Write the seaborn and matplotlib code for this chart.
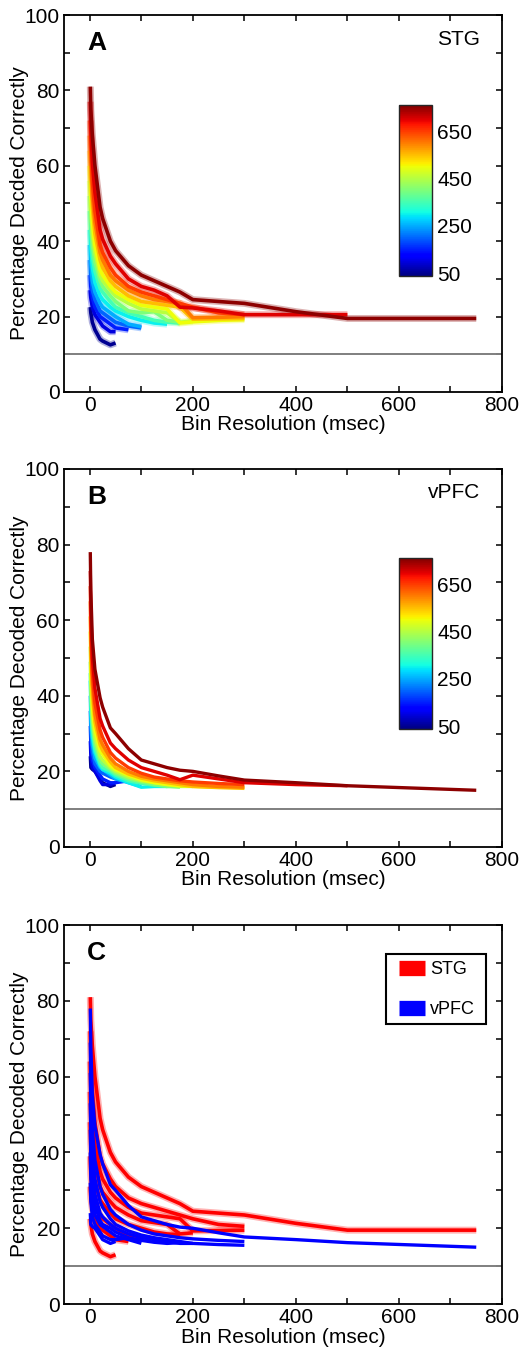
import numpy as np
import pandas as pd
import seaborn as sns
import matplotlib
matplotlib.use("Agg")
from matplotlib import pyplot as plt
from matplotlib.colors import Normalize
from matplotlib.lines import Line2D
from matplotlib.patches import Rectangle
from matplotlib.ticker import MultipleLocator, FixedLocator

# bin resolutions (msec) shared by all curves; each curve uses the first len(y) of them
BINS = [1, 2, 5, 10, 20, 25, 40, 50, 75, 100, 125, 150, 175, 200, 250, 300, 400, 500, 750]
WINDOWS = [50, 100, 150, 200, 250, 300, 350, 400, 450, 500, 550, 600, 650, 700, 750]

STG = [
    [22.5, 21, 18.5, 16.5, 14, 13.5, 12.5, 13],
    [27, 25, 22.5, 20.5, 18.5, 17.5, 16, 16],
    [31, 28, 25, 22.5, 20, 19.5, 18, 17, 16.5],
    [35, 31, 27, 24.5, 21.5, 21, 19.5, 18.5, 17.5, 17],
    [39, 34, 29.5, 26.5, 23.5, 22.5, 21, 20, 18, 17.3],
    [43, 38, 33, 29, 25.5, 24.5, 22.5, 21.5, 20, 19, 18.3, 18],
    [48, 42, 36, 32, 27.5, 26.5, 24, 22.5, 21, 20, 19, 18.5, 18.3],
    [52, 46, 39, 34.5, 29.5, 28, 25.5, 24, 21.5, 21, 21.3, 19, 18.5],
    [56, 49, 42, 37, 31, 29.5, 27, 25.5, 23.5, 22, 21.5, 21, 18.5, 18.8],
    [60, 53, 45, 39, 32.5, 31, 28, 26.5, 24.5, 23, 22.5, 22, 18.3, 18.6, 19, 19.2],
    [64, 57, 49, 42, 35, 33, 29.5, 28, 25.5, 24, 23.5, 23, 22.5, 19.3, 19.4, 19.5],
    [68, 61, 52, 45, 37, 35, 31, 29.5, 27, 25.5, 24.5, 24, 23.5, 19.7, 19.8, 20],
    [72, 65, 56, 48, 39, 37, 33, 31, 28, 26.5, 25.5, 24.5, 23.5, 22.5, 21, 20.5],
    [77, 70, 61, 53, 43, 40.5, 36, 34, 30, 28, 27, 25.5, 22.5, 22.3, 21.5, 20.5, 20.5, 20.5],
    [81, 75, 68, 60, 49, 46, 40, 37.5, 33.5, 31, 29.5, 28, 26.5, 24.5, 24, 23.5, 21.3, 19.5, 19.5],
]

VPFC = [
    [24, 21, 20.5, 20, 18, 17, 16, 16.5],
    [28, 24, 21, 20, 17.5, 16.5, 16.5, 17],
    [32, 27, 23, 21, 19, 18, 17, 17, 17.5],
    [36, 30, 25, 22, 20, 19.5, 18.5, 18, 18.5, 17.5],
    [40, 33, 27, 23.5, 21, 20.5, 19, 18, 17, 16],
    [44, 36, 29, 25, 21.5, 20.5, 19.5, 18.5, 17, 15.8, 16, 16],
    [46, 38, 31, 26, 22, 21, 20, 19, 17.5, 16.8, 16.3, 16, 16.2],
    [49, 41, 33, 27.5, 23, 22, 20.5, 19.5, 18, 17.2, 16.5, 16, 15.8],
    [53, 44, 35, 29, 24, 23, 21, 20, 18.5, 17.5, 17, 16.5, 16, 16],
    [57, 47, 37, 31, 25.5, 24.5, 21.5, 20.5, 19, 17.8, 17, 16.5, 16.2, 16, 15.8, 15.7],
    [61, 51, 40, 33, 27, 25.5, 22.5, 21, 19.3, 18.2, 17.5, 17, 16.5, 16, 15.7, 15.5],
    [65, 54, 43, 35, 28.5, 27, 23.5, 22, 20, 18.7, 18, 17.5, 17, 16.5, 16, 15.8],
    [69, 58, 46, 38, 31, 29, 25, 23.5, 21, 19.5, 18.5, 18, 17.5, 17.2, 16.8, 16.5],
    [73, 63, 50, 42, 34, 32, 27.5, 26, 23, 21, 20, 19, 17.8, 19, 18, 17, 16.5, 16.2],
    [78, 68, 55, 47, 39.5, 37, 31.5, 30, 26, 23, 22, 21, 20.3, 20, 18.8, 17.7, 17, 16.2, 15],
]

CHANCE = 10
CBAR_TICKS = [50, 250, 450, 650]


def to_frame(curves, windows):
    rows = []
    for w, ys in zip(windows, curves):
        for b, y in zip(BINS, ys):
            rows.append((w, b, y))
    return pd.DataFrame(rows, columns=["window", "bin", "pct"])


stg_df = to_frame(STG, WINDOWS)
vpfc_df = to_frame(VPFC, WINDOWS)
# panel C shows every other window
sub = WINDOWS[::2]
stg_sub = stg_df[stg_df["window"].isin(sub)]
vpfc_sub = vpfc_df[vpfc_df["window"].isin(sub)]

sns.set_style("ticks")
plt.rcParams["font.family"] = ["Liberation Sans", "DejaVu Sans"]
plt.rcParams["lines.solid_capstyle"] = "butt"
for key in ["text.color", "axes.labelcolor", "xtick.color", "ytick.color"]:
    plt.rcParams[key] = "black"

jet = matplotlib.colormaps["jet"]
norm = Normalize(38, 760)

fig = plt.figure(figsize=(5.29, 13.53), dpi=100)
ax_a = fig.add_axes([0.121, 0.7103, 0.828, 0.2786])
ax_b = fig.add_axes([0.121, 0.3740, 0.828, 0.2794])
ax_c = fig.add_axes([0.121, 0.0362, 0.828, 0.2800])


def style_axes(ax, ylabel):
    ax.axhline(CHANCE, color="#7f7f7f", lw=1.4, zorder=1)
    ax.set_xlim(-50, 800)
    ax.set_ylim(0, 100)
    ax.xaxis.set_major_locator(MultipleLocator(200))
    ax.xaxis.set_minor_locator(MultipleLocator(100))
    ax.yaxis.set_major_locator(MultipleLocator(20))
    ax.yaxis.set_minor_locator(MultipleLocator(10))
    ax.tick_params(which="both", direction="in", top=True, right=True,
                   length=4, width=1.1, labelsize=15, pad=3)
    for s in ax.spines.values():
        s.set_linewidth(1.3)
        s.set_color("black")
    ax.set_xlabel("Bin Resolution (msec)", fontsize=15)
    ax.set_ylabel(ylabel, fontsize=15)
    ax.xaxis.set_label_coords(0.5, -0.062)
    ax.yaxis.set_label_coords(-0.08, 0.5)


def stg_lines(ax, df, palette, hue_norm=None):
    # faint halo under each STG curve
    sns.lineplot(data=df, x="bin", y="pct", hue="window", units="window",
                 estimator=None, sort=False, palette=palette, hue_norm=hue_norm,
                 lw=5, alpha=0.3, legend=False, ax=ax)
    sns.lineplot(data=df, x="bin", y="pct", hue="window", units="window",
                 estimator=None, sort=False, palette=palette, hue_norm=hue_norm,
                 lw=2.6, legend=False, ax=ax)


def add_cbar(bottom):
    cax = fig.add_axes([0.754, bottom, 0.0624, 0.1264])
    cb = fig.colorbar(plt.cm.ScalarMappable(norm=norm, cmap=jet), cax=cax,
                      ticks=CBAR_TICKS)
    cb.ax.yaxis.set_minor_locator(FixedLocator([150, 350, 550, 750]))
    cb.ax.tick_params(which="both", direction="in", left=True, right=True,
                      length=3, width=0.8, labelsize=15, pad=4)
    cb.outline.set_linewidth(1.0)


# A: STG
stg_lines(ax_a, stg_df, jet, norm)
style_axes(ax_a, "Percentage Decded Correctly")
ax_a.text(0.053, 0.926, "A", transform=ax_a.transAxes, fontsize=19,
          fontweight="bold", va="center", ha="left")
ax_a.text(0.95, 0.936, "STG", transform=ax_a.transAxes, fontsize=15,
          va="center", ha="right")
add_cbar(0.796)

# B: vPFC
sns.lineplot(data=vpfc_df, x="bin", y="pct", hue="window", units="window",
             estimator=None, sort=False, palette=jet, hue_norm=norm,
             lw=2.4, legend=False, ax=ax_b)
style_axes(ax_b, "Percentage Decoded Correctly")
ax_b.text(0.053, 0.926, "B", transform=ax_b.transAxes, fontsize=19,
          fontweight="bold", va="center", ha="left")
ax_b.text(0.95, 0.937, "vPFC", transform=ax_b.transAxes, fontsize=15,
          va="center", ha="right")
add_cbar(0.4612)

# C: both regions overlaid
red = {w: "#ff0000" for w in sub}
blue = {w: "#0000ff" for w in sub}
stg_lines(ax_c, stg_sub, red)
sns.lineplot(data=vpfc_sub, x="bin", y="pct", hue="window", units="window",
             estimator=None, sort=False, palette=blue, lw=2.4, legend=False,
             ax=ax_c)
style_axes(ax_c, "Percentage Decoded Correctly")
ax_c.text(0.053, 0.926, "C", transform=ax_c.transAxes, fontsize=19,
          fontweight="bold", va="center", ha="left")
handles = [Line2D([], [], color="#ff0000", lw=11, solid_capstyle="butt"),
           Line2D([], [], color="#0000ff", lw=11, solid_capstyle="butt")]
ax_c.legend(handles, ["STG", "vPFC"], loc="center left",
            bbox_to_anchor=(0.765, 0.83), borderaxespad=0, borderpad=0,
            fontsize=13, handlelength=1.45, handletextpad=0.25,
            labelspacing=1.25, frameon=False)
# legend frame drawn separately so its padding matches the original box
ax_c.add_patch(Rectangle((0.735, 0.739), 0.228, 0.184, transform=ax_c.transAxes,
                         fill=False, lw=1.5, ec="black", zorder=5))

fig.savefig("out.png", dpi=100)
